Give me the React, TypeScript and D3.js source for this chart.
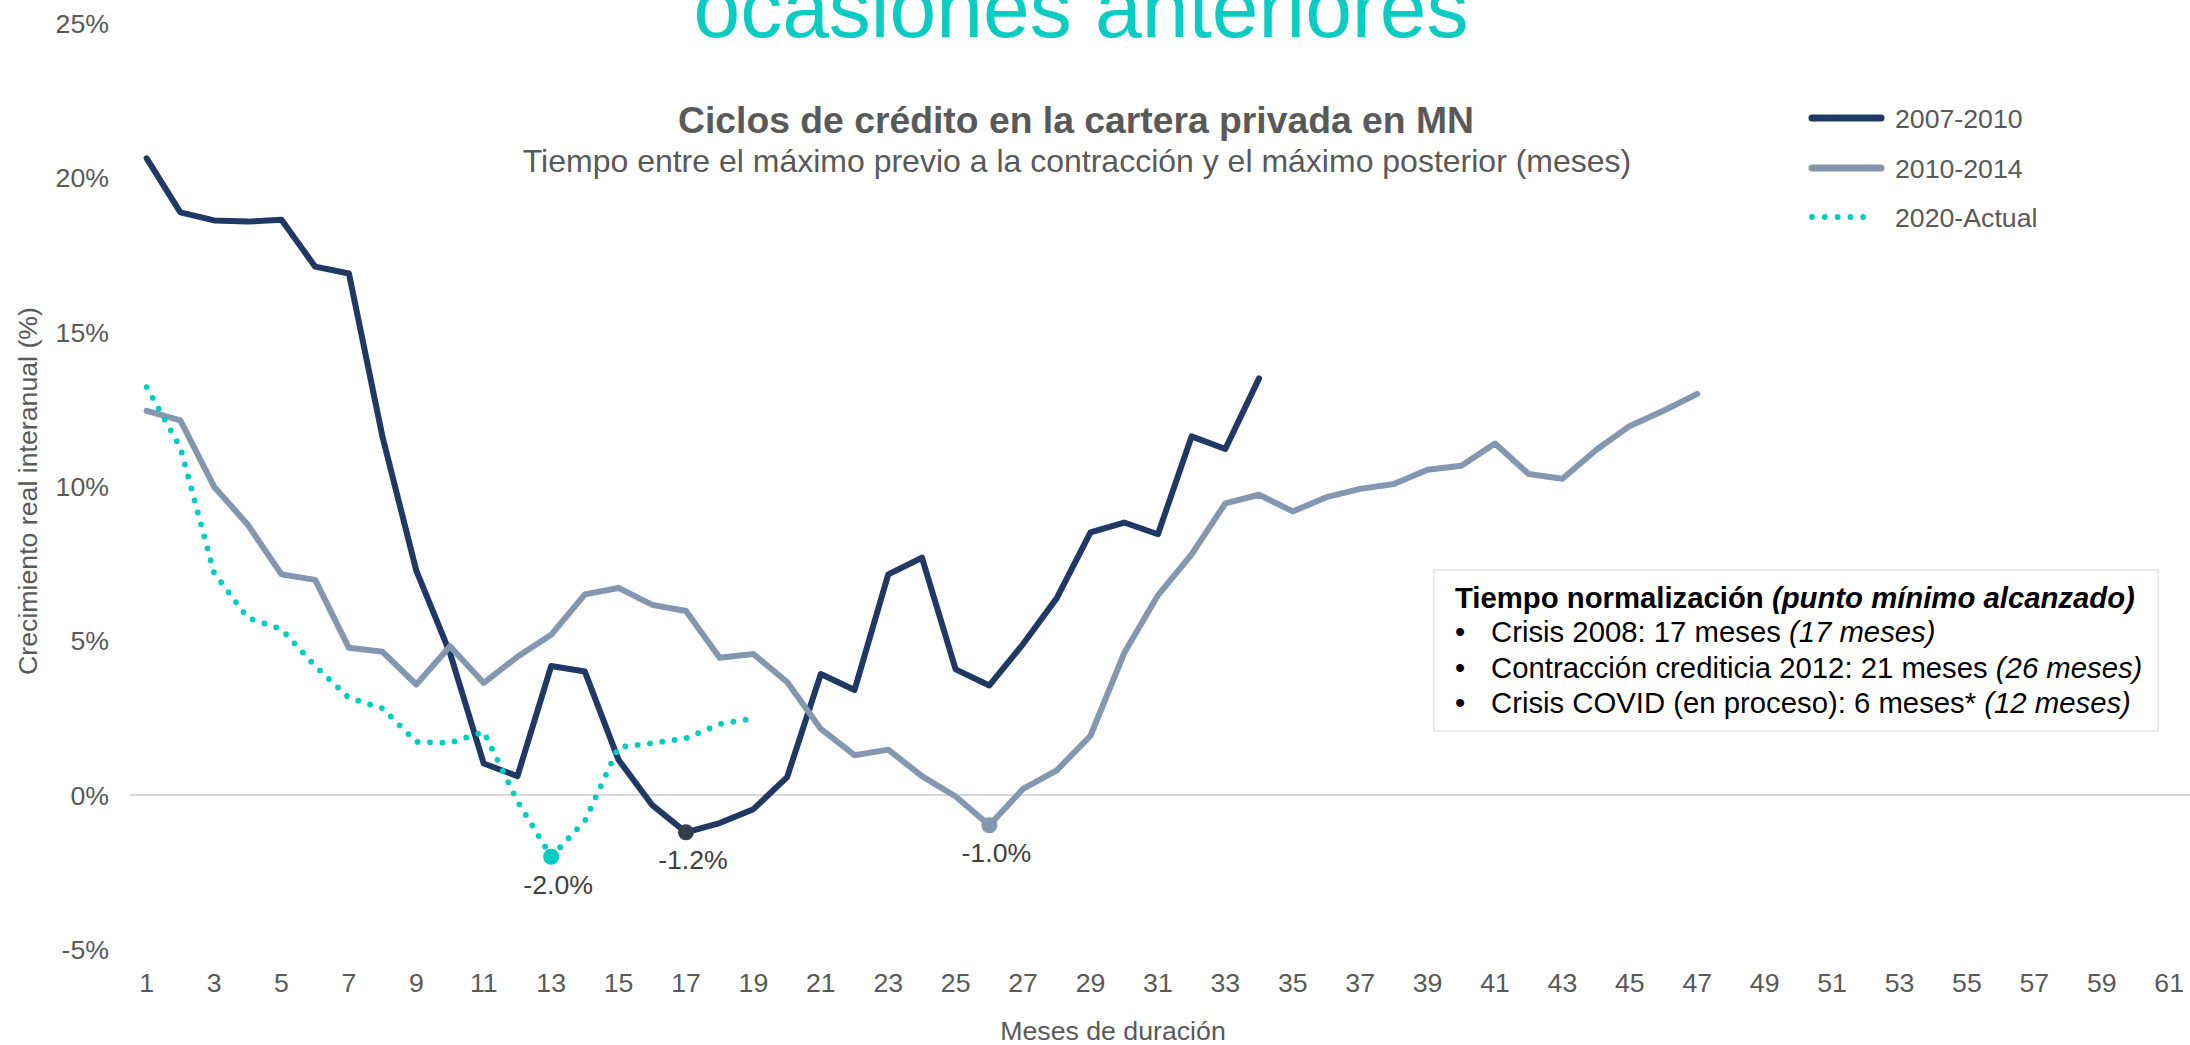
import React from 'react';
import * as d3 from 'd3';

// ---- data ----
const months: number[] = d3.range(1, 62);
const xTickLabels: number[] = [1, 3, 5, 7, 9, 11, 13, 15, 17, 19, 21, 23, 25, 27, 29, 31, 33, 35, 37, 39, 41, 43, 45, 47, 49, 51, 53, 55, 57, 59, 61];
const yTicks: number[] = [-5, 0, 5, 10, 15, 20, 25];

const s2007_2010: number[] = [20.63, 18.88, 18.62, 18.58, 18.64, 17.12, 16.9, 11.59, 7.27, 4.6, 1.02, 0.61, 4.18, 4.0, 1.14, -0.33, -1.21, -0.91, -0.46, 0.58, 3.92, 3.4, 7.15, 7.69, 4.07, 3.55, 4.89, 6.38, 8.51, 8.83, 8.45, 11.62, 11.21, 13.5];
const s2010_2014: number[] = [12.45, 12.14, 9.99, 8.76, 7.15, 6.97, 4.77, 4.64, 3.58, 4.82, 3.63, 4.48, 5.19, 6.5, 6.71, 6.16, 5.96, 4.45, 4.57, 3.66, 2.14, 1.29, 1.47, 0.61, -0.05, -0.98, 0.2, 0.8, 1.92, 4.6, 6.47, 7.8, 9.45, 9.73, 9.19, 9.65, 9.92, 10.08, 10.54, 10.67, 11.39, 10.4, 10.25, 11.18, 11.96, 12.45, 13.0];
const s2020: number[] = [13.22, 11.26, 7.2, 5.74, 5.37, 4.18, 3.15, 2.81, 1.72, 1.69, 2.05, -0.2, -2.0, -0.84, 1.55, 1.68, 1.84, 2.3, 2.48];

const seriesNames: string[] = ['2007-2010', '2010-2014', '2020-Actual'];
const seriesColors: string[] = ['#203864', '#8497B0', '#00CCBF'];
const markerColors: string[] = ['#333F50', '#8497B0', '#00CCBF'];
// minimum markers: series index, month, label
const minSeries: number[] = [2, 0, 1];
const minMonths: number[] = [13, 17, 26];
const minLabels: string[] = ['-2.0%', '-1.2%', '-1.0%'];

const boxTitle = 'Tiempo normalización ';
const boxTitleItalic = '(punto mínimo alcanzado)';
const boxItems: string[] = ['Crisis 2008: 17 meses ', 'Contracción crediticia 2012: 21 meses ', 'Crisis COVID (en proceso): 6 meses* '];
const boxItemsItalic: string[] = ['(17 meses)', '(26 meses)', '(12 meses)'];

const FONT = '"Liberation Sans", Arial, Helvetica, sans-serif';

export default function App() {
  const W = 2190;
  const H = 1045;
  const x = d3.scaleBand<number>().domain(months).range([129.8, 2186]).padding(0);
  const cx = (m: number) => (x(m) as number) + x.bandwidth() / 2;
  const y = d3.scaleLinear().domain([-5, 25]).range([949.3, 23.5]);

  const allSeries = [s2007_2010, s2010_2014, s2020];
  const line = d3
    .line<number>()
    .x((_, i) => cx(i + 1))
    .y((d) => y(d));

  const legendY = [118, 168, 217];

  return (
    <svg
      width={W}
      height={H}
      style={{ position: 'absolute', left: 0, top: 0, background: '#fff' }}
      fontFamily={FONT}
    >
      <rect x={0} y={0} width={W} height={H} fill="#ffffff" />

      {/* big heading (cut off at top, as in the source slide) */}
      <text x={1081} y={37} textAnchor="middle" fontSize={84} fill="#0ACCC2">
        ocasiones anteriores
      </text>

      {/* chart title */}
      <text x={1076} y={133} textAnchor="middle" fontSize={37.3} fontWeight="bold" fill="#595959">
        Ciclos de crédito en la cartera privada en MN
      </text>
      <text x={1077} y={172} textAnchor="middle" fontSize={32} fill="#595959">
        Tiempo entre el máximo previo a la contracción y el máximo posterior (meses)
      </text>

      {/* y axis labels */}
      {yTicks.map((t) => (
        <text key={t} x={109} y={y(t) + 9.5} textAnchor="end" fontSize={26.7} fill="#595959">
          {t}%
        </text>
      ))}
      <text
        transform={`translate(${37},${491}) rotate(-90)`}
        textAnchor="middle"
        fontSize={26.7}
        fill="#595959"
      >
        Crecimiento real interanual (%)
      </text>

      {/* zero line */}
      <line x1={129.8} x2={2190} y1={y(0)} y2={y(0)} stroke="#D9D9D9" strokeWidth={2} />

      {/* x axis labels */}
      {xTickLabels.map((t) => (
        <text key={t} x={cx(t)} y={992} textAnchor="middle" fontSize={26.7} fill="#595959">
          {t}
        </text>
      ))}
      <text x={1113} y={1040} textAnchor="middle" fontSize={26.7} fill="#595959">
        Meses de duración
      </text>

      {/* series */}
      {allSeries.map((s, i) => (
        <path
          key={i}
          d={line(s) as string}
          fill="none"
          stroke={seriesColors[i]}
          strokeWidth={i === 2 ? 5.8 : 6}
          strokeLinecap="round"
          strokeLinejoin="round"
          strokeDasharray={i === 2 ? '0 12.4' : undefined}
        />
      ))}

      {/* minimum markers */}
      {minSeries.map((si, k) => {
        const m = minMonths[k];
        const v = allSeries[si][m - 1];
        return (
          <g key={k}>
            <circle cx={cx(m)} cy={y(v)} r={8} fill={markerColors[si]} />
            <text x={cx(m) + 7} y={y(v) + 37} textAnchor="middle" fontSize={26.7} fill="#404040">
              {minLabels[k]}
            </text>
          </g>
        );
      })}

      {/* legend */}
      {seriesNames.map((n, i) => (
        <g key={n}>
          <line
            x1={1812}
            x2={i === 2 ? 1876 : 1881}
            y1={legendY[i]}
            y2={legendY[i]}
            stroke={seriesColors[i]}
            strokeWidth={i === 2 ? 5.8 : 7}
            strokeLinecap="round"
            strokeDasharray={i === 2 ? '0 12.8' : undefined}
          />
          <text x={1895} y={legendY[i] + 9.5} fontSize={26.7} fill="#595959">
            {n}
          </text>
        </g>
      ))}

      {/* text box */}
      <rect x={1434} y={570} width={724} height={161} fill="#ffffff" stroke="#E3E3E3" strokeWidth={1.5} />
      <text x={1455} y={608} fontSize={29.3} fontWeight="bold" fill="#000">
        {boxTitle}
        <tspan fontStyle="italic">{boxTitleItalic}</tspan>
      </text>
      {boxItems.map((t, i) => (
        <g key={i}>
          <text x={1455} y={642 + i * 35.5} fontSize={29.3} fill="#000">
            •
          </text>
          <text x={1491} y={642 + i * 35.5} fontSize={29.3} fill="#000">
            {t}
            <tspan fontStyle="italic">{boxItemsItalic[i]}</tspan>
          </text>
        </g>
      ))}
    </svg>
  );
}
